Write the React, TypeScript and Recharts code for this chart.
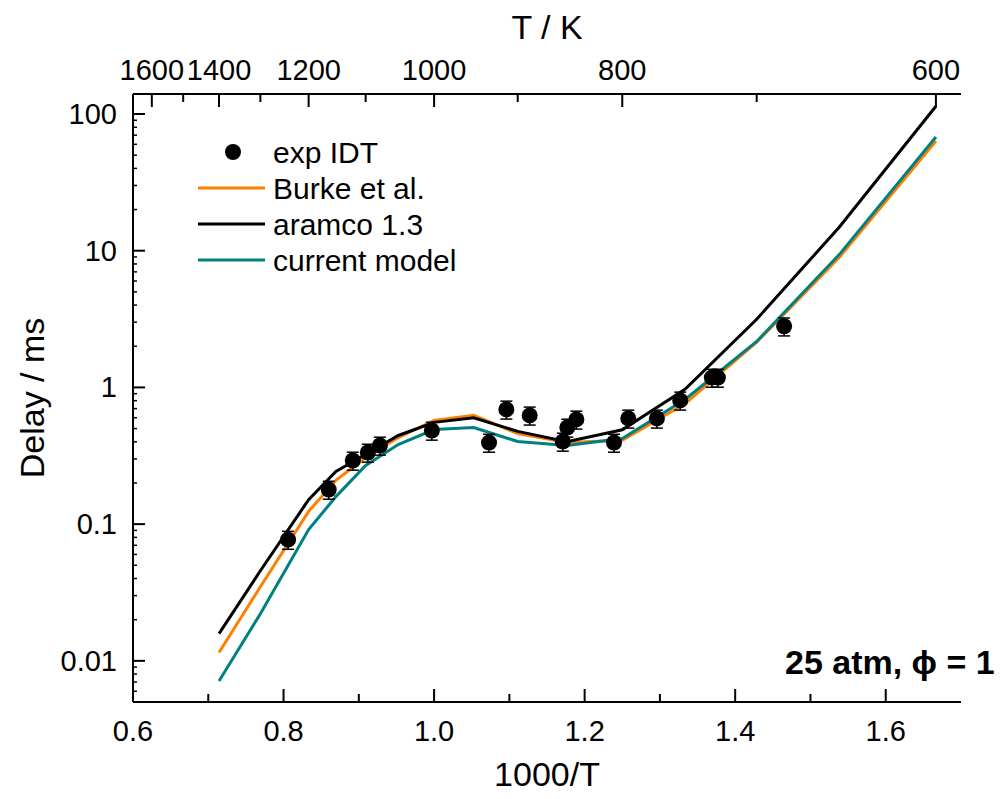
import React from 'react';
import { ComposedChart, Line, Scatter, ErrorBar, XAxis, YAxis } from 'recharts';

const FONT = '"Liberation Sans", Arial, Helvetica, sans-serif';
const W = 1005;
const H = 799;

// experimental ignition delay times (1000/T, ms)
const expX = [0.806, 0.86, 0.892, 0.912, 0.928, 0.997, 1.073, 1.096, 1.127, 1.171, 1.177, 1.189, 1.239, 1.258, 1.296, 1.327, 1.369, 1.377, 1.465];
const expY = [0.077, 0.179, 0.292, 0.334, 0.376, 0.484, 0.395, 0.69, 0.624, 0.402, 0.509, 0.583, 0.395, 0.593, 0.593, 0.803, 1.18, 1.18, 2.8];
const ERR_FRAC = 0.15;

// simulation temperatures (K) and delays (ms)
const simT = [1400, 1300, 1200, 1150, 1100, 1050, 1000, 950, 900, 850, 800, 750, 700, 650, 600];
const burke = [0.0115, 0.0348, 0.124, 0.209, 0.307, 0.43, 0.573, 0.624, 0.46, 0.395, 0.41, 0.76, 2.14, 8.96, 63.4];
const aramco = [0.0158, 0.0456, 0.151, 0.243, 0.323, 0.445, 0.555, 0.6, 0.477, 0.4, 0.49, 0.97, 3.15, 14.9, 114];
const current = [0.00713, 0.0221, 0.0912, 0.159, 0.269, 0.382, 0.492, 0.509, 0.402, 0.376, 0.423, 0.816, 2.17, 9.4, 67.8];

// axis ticks
const xTicks = [0.6, 0.7, 0.8, 0.9, 1.0, 1.1, 1.2, 1.3, 1.4, 1.5, 1.6];
const tTicks = [1600, 1500, 1400, 1300, 1200, 1100, 1000, 900, 800, 700, 600];
const tLabeled = [1600, 1400, 1200, 1000, 800, 600];
const yMajor = [0.01, 0.1, 1, 10, 100];
const yMinorMult = [2, 3, 4, 5, 6, 7, 8, 9];

const series = [
  { name: 'Burke et al.', values: burke, color: '#FF8000' },
  { name: 'aramco 1.3', values: aramco, color: '#000000' },
  { name: 'current model', values: current, color: '#008080' },
];

const toXY = (vals: number[]) => simT.map((t, i) => ({ x: 1000 / t, y: vals[i] }));
const expData = expX.map((x, i) => ({ x, y: expY[i], err: [expY[i] * ERR_FRAC, expY[i] * ERR_FRAC] }));

const yTicks: number[] = [0.006, 0.007, 0.008, 0.009];
yMajor.forEach((m) => {
  yTicks.push(m);
  if (m < 100) yMinorMult.forEach((k) => yTicks.push(+(m * k).toPrecision(3)));
});

const TICK_FS = 29;
const TITLE_FS = 34;
const LEGEND_FS = 30;

const BottomTick = (props: any) => {
  const { x, y, payload } = props;
  const v = payload.value;
  const major = Math.round(v * 10) % 2 === 0;
  return (
    <g>
      <line x1={x} y1={y} x2={x} y2={y - (major ? 13 : 8)} stroke="#000" strokeWidth={2} />
      {major && (
        <text x={x} y={y + 39} textAnchor="middle" fontSize={TICK_FS} fontFamily={FONT} fill="#000">
          {v.toFixed(1)}
        </text>
      )}
    </g>
  );
};

const TopTick = (props: any) => {
  const { x, y, payload } = props;
  const t = Math.round(1000 / payload.value);
  const major = tLabeled.includes(t);
  return (
    <g>
      <line x1={x} y1={y} x2={x} y2={y + (major ? 13 : 8)} stroke="#000" strokeWidth={2} />
      {major && (
        <text x={x} y={y - 14} textAnchor="middle" fontSize={TICK_FS} fontFamily={FONT} fill="#000">
          {t}
        </text>
      )}
    </g>
  );
};

const LeftTick = (props: any) => {
  const { x, y, payload } = props;
  const v = payload.value;
  const lg = Math.log10(v);
  const major = Math.abs(lg - Math.round(lg)) < 1e-6;
  return (
    <g>
      <line x1={x} y1={y} x2={x + (major ? 12 : 4)} y2={y} stroke="#000" strokeWidth={major ? 2 : 1.5} />
      {major && (
        <text x={x - 16} y={y + 10} textAnchor="end" fontSize={TICK_FS} fontFamily={FONT} fill="#000">
          {String(v)}
        </text>
      )}
    </g>
  );
};

const Dot = (props: any) => {
  const { cx, cy } = props;
  return <circle cx={cx} cy={cy} r={8} fill="#000" />;
};

export default function App() {
  return (
    <div style={{ position: 'absolute', left: 0, top: 0, width: W, height: H, background: '#fff' }}>
      <ComposedChart width={W} height={H} margin={{ top: 10, right: 44, bottom: 10, left: 10 }}>
        <XAxis
          xAxisId="bottom"
          dataKey="x"
          type="number"
          domain={[0.6, 1.7]}
          allowDataOverflow
          ticks={xTicks}
          interval={0}
          height={87}
          tickSize={0}
          tickMargin={0}
          tickLine={false}
          axisLine={{ stroke: '#000', strokeWidth: 2 }}
          tick={<BottomTick />}
        />
        <XAxis
          xAxisId="top"
          orientation="top"
          dataKey="x"
          type="number"
          domain={[0.6, 1.7]}
          allowDataOverflow
          ticks={tTicks.map((t) => 1000 / t)}
          interval={0}
          height={84}
          tickSize={0}
          tickMargin={0}
          tickLine={false}
          axisLine={{ stroke: '#000', strokeWidth: 2 }}
          tick={<TopTick />}
        />
        <YAxis
          type="number"
          scale="log"
          domain={[0.005, 140]}
          allowDataOverflow
          ticks={yTicks}
          interval={0}
          width={123}
          tickSize={0}
          tickMargin={0}
          tickLine={false}
          axisLine={{ stroke: '#000', strokeWidth: 2 }}
          tick={<LeftTick />}
        />
        <Line
          xAxisId="top"
          data={toXY(aramco)}
          dataKey="y"
          stroke="none"
          dot={false}
          legendType="none"
          isAnimationActive={false}
        />
        {series.map((s) => (
          <Line
            key={s.name}
            xAxisId="bottom"
            data={toXY(s.values)}
            dataKey="y"
            type="linear"
            stroke={s.color}
            strokeWidth={3}
            dot={false}
            isAnimationActive={false}
          />
        ))}
        <Scatter xAxisId="bottom" data={expData} dataKey="y" shape={<Dot />} isAnimationActive={false}>
          <ErrorBar dataKey="err" direction="y" width={6} stroke="#000" strokeWidth={1.5} />
        </Scatter>
      </ComposedChart>
      <svg
        width={W}
        height={H}
        style={{ position: 'absolute', left: 0, top: 0, pointerEvents: 'none' }}
        fontFamily={FONT}
      >
        <text x={547} y={39} textAnchor="middle" fontSize={TITLE_FS}>T / K</text>
        <text x={547} y={786} textAnchor="middle" fontSize={TITLE_FS}>1000/T</text>
        <text x={44} y={398} textAnchor="middle" fontSize={TITLE_FS} transform="rotate(-90, 44, 398)">
          Delay / ms
        </text>
        <circle cx={233} cy={152} r={8} fill="#000" />
        <text x={273} y={163} fontSize={LEGEND_FS}>exp IDT</text>
        {series.map((s, i) => (
          <g key={s.name}>
            <line x1={198} x2={265} y1={188 + i * 36} y2={188 + i * 36} stroke={s.color} strokeWidth={3} />
            <text x={273} y={199 + i * 36} fontSize={LEGEND_FS}>{s.name}</text>
          </g>
        ))}
        <text x={785} y={674} fontSize={34} fontWeight="bold">25 atm, ϕ = 1</text>
      </svg>
    </div>
  );
}
